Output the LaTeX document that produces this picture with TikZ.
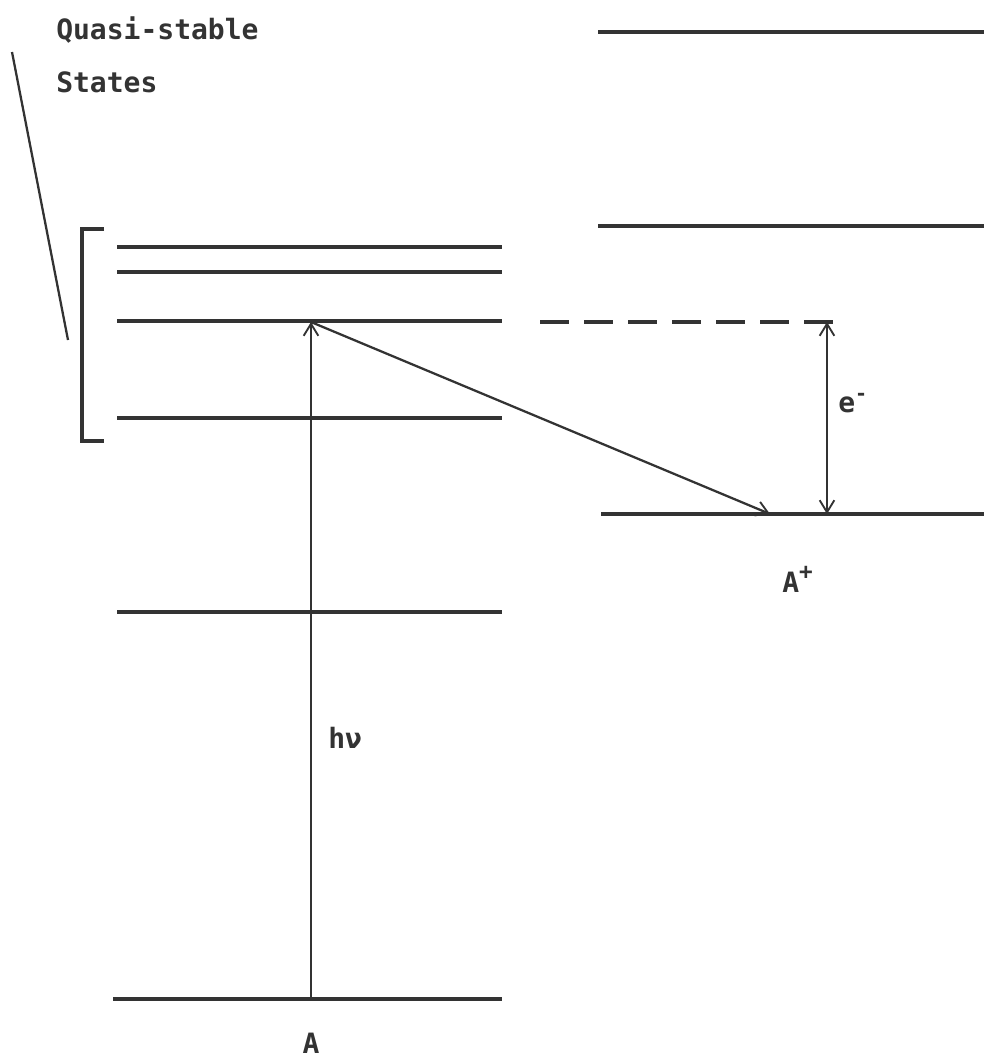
\documentclass[tikz,border=0pt]{standalone}
\usepackage{fontspec}
\setmainfont{DejaVu Sans Mono}
\definecolor{ink}{HTML}{333333}
\usetikzlibrary{arrows.meta}
\begin{document}
\begin{tikzpicture}[x=0.75pt,y=-0.75pt,
  level/.style={line width=2.6pt,draw=ink},
  thinline/.style={line width=1.7pt,draw=ink},
  barb/.tip={Straight Barb[length=9pt,width=11pt,line width=1.4pt]},
  vee/.style={-barb},
  dvee/.style={barb-barb},
  lbl/.style={text=ink,font=\bfseries\fontsize{21}{25}\selectfont,inner sep=0pt}]
\useasboundingbox (0,0) rectangle (984,1058);
% left levels
\coordinate (L1a) at (117,247); \coordinate (L1b) at (502,247);
\coordinate (L2a) at (117,272); \coordinate (L2b) at (502,272);
\coordinate (L3a) at (117,321); \coordinate (L3b) at (502,321);
\coordinate (L4a) at (117,418); \coordinate (L4b) at (502,418);
\coordinate (L5a) at (117,612); \coordinate (L5b) at (502,612);
\coordinate (G0a) at (113,999); \coordinate (G0b) at (502,999);
\draw[level] (L1a) -- (L1b);
\draw[level] (L2a) -- (L2b);
\draw[level] (L3a) -- (L3b);
\draw[level] (L4a) -- (L4b);
\draw[level] (L5a) -- (L5b);
\draw[level] (G0a) -- (G0b);
% right levels
\coordinate (R1a) at (598,32); \coordinate (R1b) at (984,32);
\coordinate (R2a) at (598,226); \coordinate (R2b) at (984,226);
\coordinate (R3a) at (601,514); \coordinate (R3b) at (984,514);
\draw[level] (R1a) -- (R1b);
\draw[level] (R2a) -- (R2b);
\draw[level] (R3a) -- (R3b);
% dashed
\coordinate (Da) at (540,322); \coordinate (Db) at (846,322);
\draw[level,dash pattern=on 22pt off 11pt] (Da) -- (Db);
% bracket
\coordinate (Bt) at (104,229); \coordinate (Bb) at (104,441);
\draw[level] (Bt) -- (82,229) -- (82,441) -- (Bb);
% pointer line
\coordinate (P1) at (12,52); \coordinate (P2) at (68,340);
\draw[thinline] (P1) -- (P2);
% transitions
\coordinate (X0) at (311,999); \coordinate (X1) at (311,322);
\coordinate (Y1) at (770,514);
\draw[thinline,vee] (X0) -- (X1);
\draw[thinline,vee] (X1) -- (Y1);
\coordinate (E0) at (827,322); \coordinate (E1) at (827,514);
\draw[thinline,dvee] (E0) -- (E1);
% labels
\node[lbl,anchor=base west] (t1) at (56,39) {Quasi-stable};
\node[lbl,anchor=base west] (t2) at (56,92) {States};
\node[lbl,anchor=base west] (hn) at (328,748) {hν};
\node[lbl,anchor=base west] (em) at (838,412) {e\raisebox{0.42em}{\fontsize{15}{15}\selectfont -}};
\node[lbl,anchor=base west] (ap) at (782,592) {A\raisebox{0.45em}{\fontsize{17}{17}\selectfont +}};
\node[lbl,anchor=base] (a0) at (311,1053) {A};
\end{tikzpicture}
\end{document}
